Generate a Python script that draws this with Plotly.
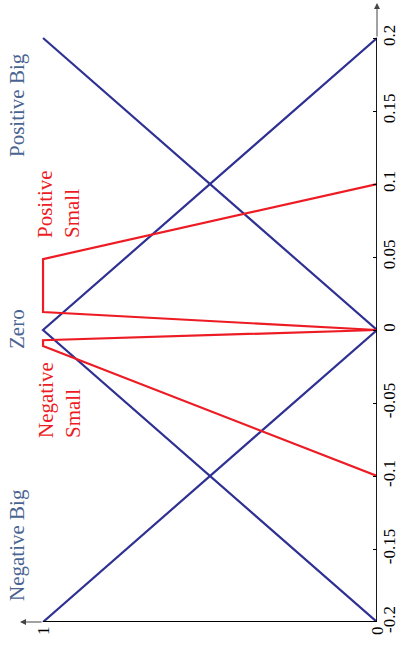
import plotly.graph_objects as go

# Membership functions over the error universe e in [-0.2, 0.2]
e_nb = [-0.2, 0.0]
mu_nb = [1, 0]

e_zero = [-0.2, 0.0, 0.2]
mu_zero = [0, 1, 0]

e_pb = [0.0, 0.2]
mu_pb = [0, 1]

e_ns = [-0.1, -0.011, -0.007, 0.0]
mu_ns = [0, 1, 1, 0]

e_ps = [0.0, 0.0123, 0.0486, 0.1]
mu_ps = [0, 1, 1, 0]

e_ticks = [-0.2, -0.15, -0.1, -0.05, 0, 0.05, 0.1, 0.15, 0.2]
e_tick_text = ["-0.2", "-0.15", "-0.1", "-0.05", "0", "0.05", "0.1", "0.15", "0.2"]
mu_ticks = [0, 1]
mu_tick_text = ["0", "1"]

BLUE = "#2e3192"
RED = "#ed1c24"
LABEL_BLUE = "#4a6491"
FONT = "Liberation Serif"

W, H = 403, 653
ML, MR, MT, MB = 20, 26, 3, 31
X_MAX = 1.069   # membership axis extends past 1 for the arrow
Y_MAX = 0.224   # error axis extends past 0.2 for the arrow

fig = go.Figure()
for mu, e, col in [(mu_nb, e_nb, BLUE), (mu_zero, e_zero, BLUE), (mu_pb, e_pb, BLUE),
                   (mu_ns, e_ns, RED), (mu_ps, e_ps, RED)]:
    fig.add_trace(go.Scatter(x=mu, y=e, mode="lines", line=dict(color=col, width=2.2),
                             showlegend=False, hoverinfo="skip", cliponaxis=False))

# Axis lines
fig.add_shape(type="line", xref="x", yref="y", x0=0, x1=0, y0=-0.2, y1=0.2,
              line=dict(color="black", width=1.8))
fig.add_shape(type="line", xref="x", yref="y", x0=0, x1=1, y0=-0.2, y1=-0.2,
              line=dict(color="black", width=1.8))

# Arrow heads at the ends of both axes
fig.add_annotation(x=0, y=Y_MAX, ax=0, ay=0.2, xref="x", yref="y", axref="x", ayref="y",
                   text="", showarrow=True, arrowhead=2, arrowsize=1.2, arrowwidth=1,
                   arrowcolor="#444")
fig.add_annotation(x=X_MAX, y=-0.2, ax=1, ay=-0.2, xref="x", yref="y", axref="x", ayref="y",
                   text="", showarrow=True, arrowhead=2, arrowsize=1.2, arrowwidth=1,
                   arrowcolor="#444")

def px_x(px):
    return (px - ML) / (W - ML - MR)

def px_y(py):
    return (H - MB - py) / (H - MT - MB)

labels = [
    ("Positive Big", 17, 105, LABEL_BLUE),
    ("Zero", 17, 329, LABEL_BLUE),
    ("Negative Big", 17, 545, LABEL_BLUE),
    ("Positive<br>Small", 59, 204, RED),
    ("Negative<br>Small", 59, 400, RED),
]
for txt, lx, ly, col in labels:
    fig.add_annotation(x=px_x(lx), y=px_y(ly), xref="paper", yref="paper", text=txt,
                       showarrow=False, textangle=-90, align="left",
                       font=dict(family=FONT, size=21, color=col),
                       xanchor="center", yanchor="middle")

fig.update_layout(
    width=W, height=H,
    margin=dict(l=ML, r=MR, t=MT, b=MB),
    paper_bgcolor="white", plot_bgcolor="white",
    font=dict(family=FONT, size=17, color="black"),
    xaxis=dict(range=[X_MAX, 0], showgrid=False, zeroline=False, showline=False,
               tickvals=mu_ticks, ticktext=mu_tick_text, tickangle=-90, ticks="",
               automargin=False, fixedrange=True),
    yaxis=dict(range=[-0.2, Y_MAX], side="right", showgrid=False, zeroline=False,
               showline=False, tickvals=e_ticks, ticktext=e_tick_text, tickangle=-90,
               ticks="inside", ticklen=4, tickcolor="black", tickwidth=1.2,
               automargin=False, fixedrange=True),
)

fig.write_html("out.html")
